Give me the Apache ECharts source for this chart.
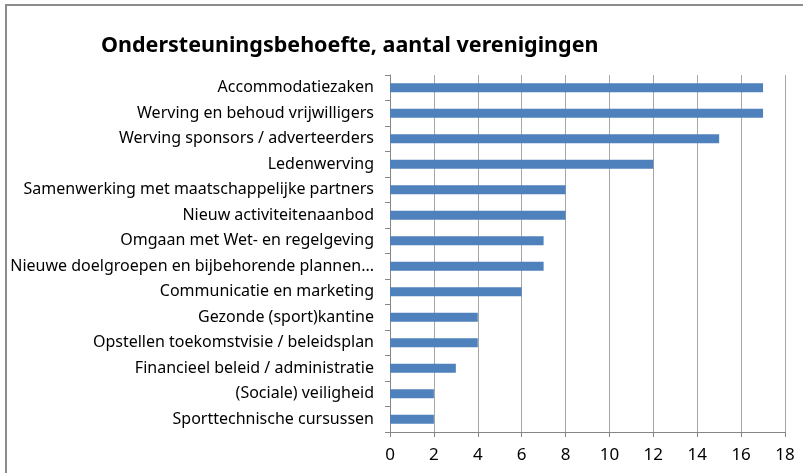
<!DOCTYPE html>
<html>
<head>
<meta charset="utf-8">
<script src="https://cdn.jsdelivr.net/npm/echarts@6/dist/echarts.min.js"></script>
<style>
  html, body { margin: 0; padding: 0; background: #fff; }
  #container { width: 803px; height: 473px; }
</style>
</head>
<body>
<div id="container"></div>
<script>
var dom = document.getElementById("container");
var myChart = echarts.init(dom);

// categories, top to bottom as in the picture
var categories = [
  "Accommodatiezaken",
  "Werving en behoud vrijwilligers",
  "Werving sponsors / adverteerders",
  "Ledenwerving",
  "Samenwerking met maatschappelijke partners",
  "Nieuw activiteitenaanbod",
  "Omgaan met Wet- en regelgeving",
  "Nieuwe doelgroepen en bijbehorende plannen...",
  "Communicatie en marketing",
  "Gezonde (sport)kantine",
  "Opstellen toekomstvisie / beleidsplan",
  "Financieel beleid / administratie",
  "(Sociale) veiligheid",
  "Sporttechnische cursussen"
];
var values = [17, 17, 15, 12, 8, 8, 7, 7, 6, 4, 4, 3, 2, 2];

var xMin = 0;
var xMax = 18;
var xStep = 2;

var labelFont = "Noto Sans";

var option = {
  animation: false,
  title: {
    text: "Ondersteuningsbehoefte, aantal verenigingen",
    left: 96,
    top: 30,
    textStyle: {
      fontFamily: labelFont,
      fontSize: 21.5,
      fontWeight: "bold",
      color: "#000"
    }
  },
  graphic: [
    {
      type: "rect",
      shape: { x: 6, y: 5, width: 900, height: 600 },
      style: { fill: "none", stroke: "#8c8c8c", lineWidth: 2 }
    }
  ],
  grid: {
    left: 390,
    right: 18,
    top: 75,
    bottom: 41,
    containLabel: false
  },
  xAxis: {
    type: "value",
    min: xMin,
    max: xMax,
    interval: xStep,
    axisLine: { show: true, lineStyle: { color: "#868686", width: 1 } },
    axisTick: { show: true, length: 5, lineStyle: { color: "#868686" } },
    splitLine: { show: true, lineStyle: { color: "#a6a6a6", width: 1 } },
    axisLabel: {
      fontFamily: labelFont,
      fontSize: 17,
      color: "#000",
      margin: 15
    }
  },
  yAxis: {
    type: "category",
    data: categories,
    inverse: true,
    axisLine: { show: true, lineStyle: { color: "#868686", width: 1 } },
    axisTick: { show: true, length: 5, lineStyle: { color: "#868686" } },
    axisLabel: {
      fontFamily: labelFont,
      fontSize: 16,
      color: "#000",
      margin: 16
    }
  },
  series: [
    {
      type: "bar",
      data: values,
      barWidth: 9,
      itemStyle: { color: "#4f81bd" }
    }
  ]
};

myChart.setOption(option, true);
</script>
</body>
</html>
